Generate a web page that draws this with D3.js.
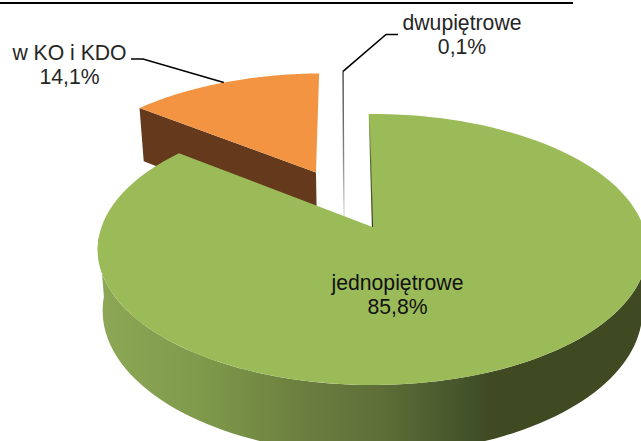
<!DOCTYPE html>
<html>
<head>
<meta charset="utf-8">
<script src="https://cdn.jsdelivr.net/npm/d3@7"></script>
<style>
  html, body { margin: 0; padding: 0; background: #fff; overflow: hidden; }
  text { font-family: "Liberation Sans", Arial, sans-serif; font-size: 21.2px; }
</style>
</head>
<body>
<svg id="chart" width="641" height="441"></svg>
<script>
// chart data
const categories = ["jednopiętrowe", "w KO i KDO", "dwupiętrowe"];
const shares = [85.8, 14.1, 0.1];
const shareLabels = ["85,8%", "14,1%", "0,1%"];

const width = 641, height = 441;
const svg = d3.select("#chart");

// perspective of the tilted pie: unit circle -> screen
const view = { cx: 372.5, cy: 227, sx: 271, sy: 131.8, k: 0.166, depth: 60, shrink: 0.982 };
const startAngle = -0.8 * Math.PI / 180;
// how far each slice is pulled out, in pie radii
const explode = [{ u: 0, v: 0 }, { u: -0.224, v: 0.445 }, { u: -0.115, v: 0.47 }];

const project = (u, v, low) => {
  const d = 1 + view.k * v;
  const s = low ? view.shrink : 1;
  return [
    view.cx + s * view.sx * u / d,
    view.cy + ((low ? view.depth : 0) - s * view.sy * v) / d
  ];
};

const rimPoint = (e, a, low) => project(e.u + Math.sin(a), e.v + Math.cos(a), low);
const arcAngles = (a0, a1) => d3.range(0, 121).map(i => a0 + (a1 - a0) * i / 120);
const line = d3.line();

const pie = d3.pie().sort(null).startAngle(startAngle).endAngle(startAngle + 2 * Math.PI);
const slices = pie(shares);

const defs = svg.append("defs");

// side wall shading of the big slice
const sideGrad = defs.append("linearGradient")
  .attr("id", "green-side")
  .attr("gradientUnits", "userSpaceOnUse")
  .attr("x1", 100).attr("x2", 641).attr("y1", 0).attr("y2", 0);
[[0, "#8ca755"], [0.185, "#7f9a4b"], [0.37, "#6c7f3f"], [0.517, "#5e6f38"], [0.665, "#46552b"], [0.72, "#3f4a22"], [1, "#3f4a22"]]
  .forEach(s => sideGrad.append("stop").attr("offset", s[0]).attr("stop-color", s[1]));

const thinGrad = defs.append("linearGradient")
  .attr("id", "thin-side")
  .attr("gradientUnits", "userSpaceOnUse")
  .attr("x1", 0).attr("x2", 0).attr("y1", 71).attr("y2", 215);
[[0, "#444"], [0.6, "#888"], [1, "#ddd"]]
  .forEach(s => thinGrad.append("stop").attr("offset", s[0]).attr("stop-color", s[1]));

const edgeGrad = defs.append("linearGradient")
  .attr("id", "green-edge")
  .attr("gradientUnits", "userSpaceOnUse")
  .attr("x1", 0).attr("x2", 0).attr("y1", 114).attr("y2", 228);
[[0, "#9bbb59"], [0.4, "#5c6e35"], [1, "#333d1c"]]
  .forEach(s => edgeGrad.append("stop").attr("offset", s[0]).attr("stop-color", s[1]));

// orange slice: cut wall first, then the top
{
  const d = slices[1], e = explode[1];
  const c = project(e.u, e.v), cl = project(e.u, e.v, true);
  svg.append("path")
    .attr("d", line([rimPoint(e, d.startAngle), c, cl, rimPoint(e, d.startAngle, true)]) + "Z")
    .attr("fill", "#653a1c");
  const top = arcAngles(d.startAngle, d.endAngle).map(a => rimPoint(e, a));
  svg.append("path")
    .attr("d", line([c, ...top]) + "Z")
    .attr("fill", "#f39443");
}

// the 0,1% slice is only a sliver, its wall runs on behind the big slice
{
  const d = slices[2], e = explode[2];
  svg.append("path")
    .attr("d", line([rimPoint(e, d.startAngle), project(e.u, e.v), project(e.u, e.v, true)]))
    .attr("fill", "none")
    .attr("stroke", "url(#thin-side)")
    .attr("stroke-width", 1.4);
}

// big slice: outer wall, then the top
{
  const d = slices[0], e = explode[0];
  const wallAngles = arcAngles(Math.PI / 2 - 0.2, d.endAngle).filter(a => Math.cos(a) < -0.05);
  const upper = wallAngles.map(a => rimPoint(e, a));
  const lower = wallAngles.map(a => rimPoint(e, a, true)).reverse();
  svg.append("path")
    .attr("d", line([...upper, ...lower]) + "Z")
    .attr("fill", "url(#green-side)");
  const top = arcAngles(d.startAngle, d.endAngle).map(a => rimPoint(e, a));
  svg.append("path")
    .attr("d", line([project(e.u, e.v), ...top]) + "Z")
    .attr("fill", "#9bbb59");
  svg.append("path")
    .attr("d", line([top[0], project(e.u, e.v)]))
    .attr("fill", "none")
    .attr("stroke", "url(#green-edge)")
    .attr("stroke-width", 1.2);
}

// rule across the top of the page
svg.append("line")
  .attr("x1", 0).attr("x2", 573)
  .attr("y1", 3).attr("y2", 3)
  .attr("stroke", "#000")
  .attr("stroke-width", 2);

// leader lines start on the rim of their slice
const leader = (pts) => svg.append("path")
  .attr("d", line(pts))
  .attr("fill", "none")
  .attr("stroke", "#000")
  .attr("stroke-width", 1.6);

const koTip = rimPoint(explode[1], (slices[1].startAngle + slices[1].endAngle) / 2);
leader([koTip, [143, 59], [131, 59]]);
const dwuTip = rimPoint(explode[2], slices[2].startAngle);
leader([dwuTip, [386, 34.5], [398, 34.5]]);

// labels: name on the first line, share on the second
const labelPos = [
  { x: 397.5, y: 290, fill: "#111" },
  { x: 69.5, y: 60, fill: "#262626" },
  { x: 462, y: 30, fill: "#262626" }
];
const labels = svg.selectAll("text.label")
  .data(categories)
  .enter()
  .append("text")
  .attr("class", "label")
  .attr("text-anchor", "middle")
  .attr("fill", (d, i) => labelPos[i].fill);

labels.append("tspan")
  .attr("x", (d, i) => labelPos[i].x)
  .attr("y", (d, i) => labelPos[i].y)
  .text(d => d);
labels.append("tspan")
  .attr("x", (d, i) => labelPos[i].x)
  .attr("y", (d, i) => labelPos[i].y + 24)
  .text((d, i) => shareLabels[i]);
</script>
</body>
</html>
